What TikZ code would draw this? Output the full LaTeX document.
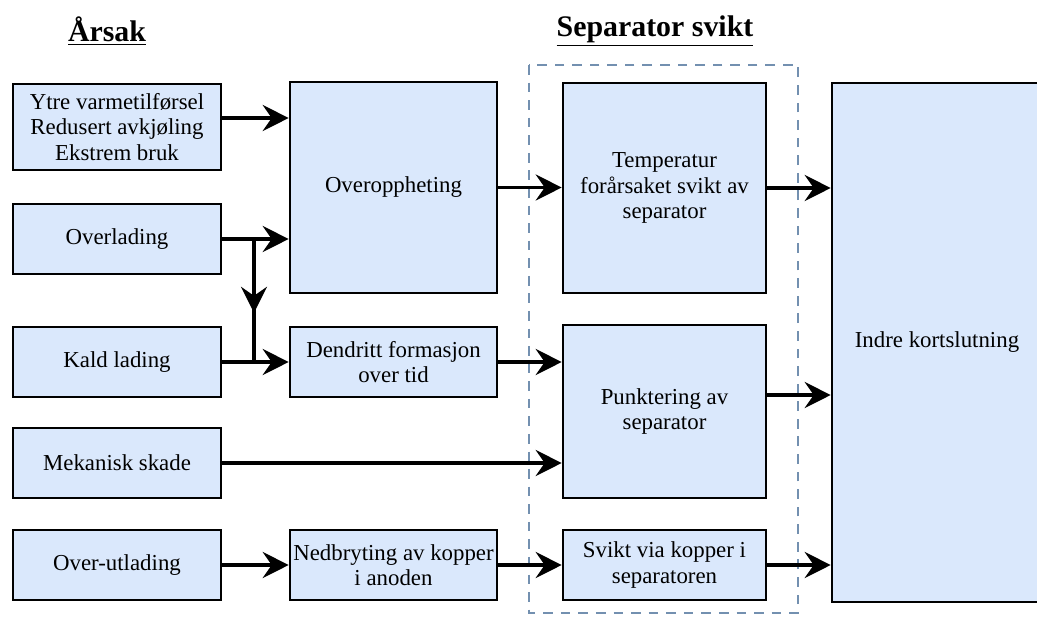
\documentclass[tikz,border=0pt]{standalone}
\usepackage{fontspec}
\setmainfont{Liberation Serif}
\usetikzlibrary{arrows.meta,decorations.markings}
\definecolor{boksblaa}{HTML}{DAE8FC}
\definecolor{strekblaa}{HTML}{7390B0}
\tikzset{pilspiss/.tip={Stealth[length=5.2mm,width=5.2mm,inset=1.8mm]}}

\begin{document}
\begin{tikzpicture}[x=0.02cm,y=-0.02cm,
    boks/.style={draw,line width=1.5pt,fill=boksblaa,align=center,inner sep=0pt,
                 font=\fontsize{13}{14.5}\selectfont},
    pil/.style={line width=2pt,-pilspiss},
    midtpil/.style={line width=2pt,postaction={decorate},
                    decoration={markings,mark=at position 0.6 with {\arrow{pilspiss}}}},
    overskrift/.style={font=\fontsize{17}{20}\selectfont\bfseries}]
  \useasboundingbox (0,0) rectangle (1037,616);

  % overskrifter
  \node[overskrift] (aarsak) at (107,31) {\underline{Årsak}};
  \node[overskrift] (sephode) at (655,31) {\underline{Separator svikt}};

  % ramme rundt separator-sviktene
  \draw[strekblaa,line width=1.3pt,dash pattern=on 5.5pt off 4.5pt] (529,65) rectangle (798,613);

  % aarsaker
  \node[boks,minimum width=4.16cm,minimum height=1.72cm] (ytre) at (117,127)
       {Ytre varmetilførsel\\Redusert avkjøling\\Ekstrem bruk};
  \node[boks,minimum width=4.16cm,minimum height=1.4cm] (overl) at (117,239) {Overlading};
  \node[boks,minimum width=4.16cm,minimum height=1.4cm] (kald) at (117,362) {Kald lading};
  \node[boks,minimum width=4.16cm,minimum height=1.4cm] (mek) at (117,463) {Mekanisk skade};
  \node[boks,minimum width=4.16cm,minimum height=1.4cm] (utl) at (117,565) {Over-utlading};

  % mellomledd
  \node[boks,minimum width=4.14cm,minimum height=4.22cm] (overo) at (393.5,187.5) {Overoppheting};
  \node[boks,minimum width=4.14cm,minimum height=1.4cm] (dendr) at (393.5,362)
       {Dendritt formasjon\\over tid};
  \node[boks,minimum width=4.14cm,minimum height=1.4cm] (nedb) at (393.5,565)
       {Nedbryting av kopper\\i anoden};

  % separator svikt
  \node[boks,minimum width=4.06cm,minimum height=4.2cm] (temp) at (664.5,188)
       {Temperatur\\forårsaket svikt av\\separator};
  \node[boks,minimum width=4.06cm,minimum height=3.46cm] (punkt) at (664.5,411.5)
       {Punktering av\\separator};
  \node[boks,minimum width=4.06cm,minimum height=1.4cm] (svikt) at (664.5,565)
       {Svikt via kopper i\\separatoren};

  \node[boks,minimum width=4.2cm,minimum height=10.38cm] (indre) at (937,342.5) {Indre kortslutning};

  % piler
  \draw[pil] ([yshift=0.18cm]ytre.east) -- ([yshift=0.18cm]ytre.east -| overo.west);
  \draw[pil] (overl.east) -- (overl.east -| overo.west);
  \coordinate (grein) at (254,239);
  \draw[midtpil] (grein) -- (grein |- kald.east);
  \draw[pil] (kald.east) -- (dendr.west);
  \draw[pil] (mek.east) -- (mek.east -| punkt.west);
  \draw[pil] (utl.east) -- (nedb.west);

  \draw[pil] (overo.east) -- (overo.east -| temp.west);
  \draw[pil] (dendr.east) -- (dendr.east -| punkt.west);
  \draw[pil] (nedb.east) -- (svikt.west);

  \draw[pil] (temp.east) -- (temp.east -| indre.west);
  \draw[pil] ([yshift=0.33cm]punkt.east) -- ([yshift=0.33cm]punkt.east -| indre.west);
  \draw[pil] (svikt.east) -- (svikt.east -| indre.west);
\end{tikzpicture}
\end{document}
